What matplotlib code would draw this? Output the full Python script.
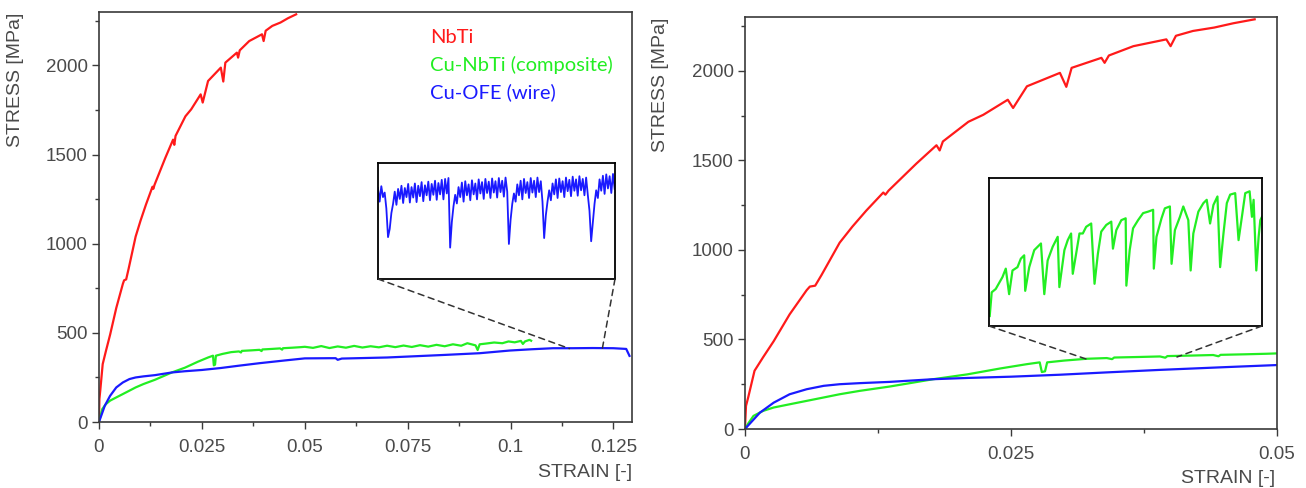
import matplotlib
matplotlib.use('Agg')
import matplotlib.pyplot as plt
from matplotlib.patches import ConnectionPatch
from matplotlib.ticker import MultipleLocator

# stress-strain data (strain [-], stress [MPa])
nbti_strain = [0, 0.0001, 0.0003, 0.0009, 0.0017, 0.0027, 0.0042, 0.0058, 0.0061, 0.0066,
               0.0072, 0.0089, 0.0101, 0.0114, 0.0130, 0.0132, 0.0135, 0.0161, 0.0180, 0.0183,
               0.0186, 0.0210, 0.0224, 0.0247, 0.0252, 0.0265, 0.0296, 0.0302, 0.0307, 0.0335,
               0.0338, 0.0342, 0.0365, 0.0396, 0.0400, 0.0405, 0.0421, 0.0441, 0.0459, 0.0479]
nbti_stress = [0, 129, 175, 325, 400, 490, 640, 775, 795, 800,
               860, 1040, 1130, 1219, 1320, 1308, 1331, 1481, 1584, 1555,
               1605, 1715, 1754, 1838, 1792, 1913, 1988, 1910, 2016, 2072,
               2044, 2085, 2137, 2175, 2137, 2195, 2222, 2241, 2265, 2287]

comp_strain = [0, 0.0003, 0.0008, 0.0017, 0.0027, 0.0042, 0.0058, 0.0074, 0.0089, 0.0108,
               0.0136, 0.0157, 0.0177, 0.0209, 0.0240, 0.0265, 0.0277, 0.0279, 0.0282, 0.0284,
               0.0300, 0.0321, 0.0340, 0.0345, 0.0347, 0.0370, 0.0390, 0.0395, 0.0397, 0.0420,
               0.0440, 0.0445, 0.0447, 0.0470, 0.0490, 0.0500, 0.0520, 0.0540, 0.0560, 0.0580,
               0.0600, 0.0620, 0.0640, 0.0660, 0.0680, 0.0700, 0.0720, 0.0740, 0.0760, 0.0780,
               0.0800, 0.0820, 0.0840, 0.0860, 0.0880, 0.0895, 0.0915, 0.0920, 0.0925, 0.0940,
               0.0960, 0.0980, 0.0995, 0.1010, 0.1025, 0.1030, 0.1035, 0.1046, 0.1050]
comp_stress = [0, 30, 73, 101, 120, 138, 157, 176, 194, 213,
               237, 258, 278, 305, 338, 362, 372, 318, 322, 372,
               382, 392, 396, 390, 399, 402, 405, 398, 407, 410,
               413, 406, 414, 417, 420, 422, 416, 426, 415, 424,
               417, 427, 418, 425, 419, 428, 420, 429, 421, 431,
               423, 433, 425, 436, 428, 442, 430, 404, 436, 440,
               446, 442, 452, 447, 455, 438, 452, 461, 456]

wire_strain = [0, 0.0014, 0.0027, 0.0042, 0.0058, 0.0074, 0.0089, 0.0108, 0.0136, 0.0177,
               0.0209, 0.0250, 0.0296, 0.0340, 0.0390, 0.0450, 0.0500, 0.0560, 0.0575, 0.0580,
               0.0590, 0.0700, 0.0836, 0.0925, 0.0998, 0.1050, 0.1103, 0.1150, 0.1200, 0.1250,
               0.1281, 0.1289]
wire_stress = [0, 91, 147, 194, 222, 241, 250, 256, 263, 278,
               285, 292, 303, 316, 330, 345, 357, 358, 358, 349,
               356, 362, 376, 386, 401, 408, 414, 414, 415, 414,
               410, 371]

# zoomed detail of the wire curve (left inset)
wire_zoom_strain = [
    0.11500, 0.11505, 0.11510, 0.11515, 0.11520, 0.11525, 0.11530, 0.11535, 0.11540, 0.11545,
    0.11550, 0.11555, 0.11560, 0.11565, 0.11570, 0.11575, 0.11580, 0.11585, 0.11590, 0.11595,
    0.11600, 0.11605, 0.11610, 0.11615, 0.11620, 0.11625, 0.11630, 0.11635, 0.11640, 0.11645,
    0.11650, 0.11655, 0.11660, 0.11665, 0.11670, 0.11675, 0.11680, 0.11685, 0.11690, 0.11695,
    0.11700, 0.11705, 0.11710, 0.11715, 0.11720, 0.11725, 0.11730, 0.11735, 0.11740, 0.11745,
    0.11750, 0.11755, 0.11760, 0.11765, 0.11770, 0.11775, 0.11780, 0.11785, 0.11790, 0.11795,
    0.11800, 0.11805, 0.11810, 0.11815, 0.11820, 0.11825, 0.11830, 0.11835, 0.11840, 0.11845,
    0.11850, 0.11855, 0.11860, 0.11865, 0.11870, 0.11875, 0.11880, 0.11885, 0.11890, 0.11895,
    0.11900, 0.11905, 0.11910, 0.11915, 0.11920, 0.11925, 0.11930, 0.11935, 0.11940, 0.11945,
    0.11950, 0.11955, 0.11960, 0.11965, 0.11970, 0.11975, 0.11980, 0.11985, 0.11990, 0.11995,
    0.12000, 0.12005, 0.12010, 0.12015, 0.12020, 0.12025, 0.12030, 0.12035, 0.12040, 0.12045,
    0.12050, 0.12055, 0.12060, 0.12065, 0.12070, 0.12075, 0.12080, 0.12085, 0.12090, 0.12095,
    0.12100, 0.12105, 0.12110, 0.12115, 0.12120, 0.12125, 0.12130, 0.12135, 0.12140, 0.12145,
    0.12150, 0.12155, 0.12160, 0.12165, 0.12170, 0.12175, 0.12180, 0.12185, 0.12190, 0.12195,
    0.12200, 0.12205]
wire_zoom_stress = [
    415.0, 412.0, 415.4, 413.0, 414.0, 410.5, 404.2, 406.0, 409.5, 411.5,
    414.2, 411.3, 414.8, 412.6, 415.5, 411.7, 415.0, 413.0, 415.9, 411.8,
    415.2, 412.9, 416.0, 411.9, 415.5, 413.2, 416.3, 412.1, 415.6, 413.4,
    416.4, 412.3, 415.9, 413.5, 416.6, 412.4, 416.1, 413.6, 416.8, 412.5,
    417.0, 413.8, 417.2, 401.9, 407.5, 411.0, 413.5, 411.6, 415.2, 413.0,
    416.2, 412.0, 416.5, 413.4, 415.8, 412.3, 416.7, 413.6, 416.0, 412.5,
    416.9, 413.8, 416.3, 412.6, 417.0, 413.9, 416.4, 412.8, 417.1, 414.0,
    416.5, 412.9, 417.2, 414.1, 416.6, 413.1, 417.3, 414.2, 402.7, 408.0,
    411.5, 413.8, 412.0, 415.8, 413.4, 416.6, 412.5, 417.0, 413.9, 416.3,
    412.8, 417.2, 414.0, 416.6, 413.0, 417.3, 414.1, 416.5, 412.0, 404.0,
    409.0, 412.0, 414.5, 412.3, 416.0, 413.6, 416.9, 412.8, 417.1, 414.1,
    416.5, 413.0, 417.3, 414.3, 416.8, 413.2, 417.5, 414.4, 416.9, 413.3,
    417.6, 414.5, 417.0, 413.4, 417.3, 413.5, 410.0, 403.3, 407.5, 411.5,
    414.5, 412.8, 416.9, 414.4, 417.7, 413.7, 418.0, 414.9, 417.6, 413.9,
    418.1, 414.8]

# zoomed detail of the composite curve (right inset)
comp_zoom_strain = [0.03202, 0.03208, 0.0322, 0.0324, 0.0325, 0.0326, 0.0327, 0.03285, 0.03295, 0.03305,
                    0.03308, 0.0332, 0.03335, 0.03355, 0.03365, 0.03375, 0.0339, 0.03405, 0.0341, 0.03425,
                    0.03435, 0.03445, 0.0345, 0.0346, 0.0347, 0.0348, 0.0349, 0.03505, 0.03515, 0.03525,
                    0.03535, 0.0355, 0.03565, 0.0357, 0.0358, 0.03595, 0.03608, 0.0361, 0.0362, 0.0363,
                    0.03645, 0.0366, 0.03675, 0.0369, 0.03692, 0.037, 0.03715, 0.03725, 0.0374, 0.03745,
                    0.03755, 0.0377, 0.0378, 0.03795, 0.03802, 0.0381, 0.03825, 0.0384, 0.0385, 0.0386,
                    0.0387, 0.03882, 0.0389, 0.039, 0.0391, 0.0392, 0.03935, 0.03945, 0.03955, 0.03965,
                    0.03978, 0.03985, 0.0399, 0.03998, 0.04005, 0.0401, 0.04015]
comp_zoom_stress = [387.7, 394.1, 395.0, 398.2, 400.5, 393.6, 400.0, 400.9, 403.2, 404.1,
                    394.5, 400.9, 405.5, 407.3, 393.6, 402.7, 406.4, 409.1, 395.5, 405.5,
                    408.2, 410.0, 399.1, 404.5, 410.0, 410.0, 411.8, 412.7, 396.4, 404.5,
                    410.5, 412.3, 413.2, 405.9, 410.9, 413.6, 414.1, 395.9, 405.5, 411.4,
                    413.6, 415.5, 415.9, 416.4, 400.5, 409.1, 414.1, 416.8, 417.3, 401.8,
                    410.9, 414.5, 417.3, 413.6, 400.0, 410.0, 415.9, 418.2, 419.1, 412.7,
                    417.7, 420.0, 400.9, 410.0, 418.2, 420.5, 420.9, 408.2, 414.5, 420.9,
                    421.4, 414.5, 419.1, 400.0, 409.1, 413.6, 414.5]

# tick labels as printed on the chart
left_xticks = [0, 0.025, 0.05, 0.075, 0.1, 0.125]
left_xlabels = ['0', '0.025', '0.05', '0.075', '0.1', '0.125']
right_xticks = [0, 0.025, 0.05]
right_xlabels = ['0', '0.025', '0.05']
yticks = [0, 500, 1000, 1500, 2000]
ylabels = ['0', '500', '1000', '1500', '2000']

legend_names = ['NbTi', 'Cu-NbTi (composite)', 'Cu-OFE (wire)']

RED = '#ff1a1a'
GREEN = '#22ee22'
BLUE = '#1a1aff'
FRAME = '#3a3a3a'
TXT = '#4a4a4a'

plt.rcParams['font.family'] = ['Liberation Sans', 'DejaVu Sans']

fig = plt.figure(figsize=(13.06, 4.88), dpi=100)
ax1 = fig.add_axes([0.0758, 0.1352, 0.4081, 0.8402])
ax2 = fig.add_axes([0.5704, 0.1209, 0.4074, 0.8443])


def style_axes(ax, xticks, xlabels, xmax):
    ax.plot(nbti_strain, nbti_stress, color=RED, lw=1.6)
    ax.plot(comp_strain, comp_stress, color=GREEN, lw=1.6)
    ax.plot(wire_strain, wire_stress, color=BLUE, lw=1.6)
    ax.set_xlim(0, xmax)
    ax.set_ylim(0, 2300)
    ax.set_xticks(xticks)
    ax.set_xticklabels(xlabels)
    ax.set_yticks(yticks)
    ax.set_yticklabels(ylabels)
    ax.xaxis.set_minor_locator(MultipleLocator(0.0125))
    ax.yaxis.set_minor_locator(MultipleLocator(250))
    ax.tick_params(which='major', direction='out', length=5, width=1, color=FRAME,
                   labelsize=13.5, labelcolor=TXT)
    ax.tick_params(which='minor', direction='out', length=3, width=1, color=FRAME)
    ax.tick_params(axis='x', pad=7)
    ax.tick_params(axis='y', pad=3)
    for s in ax.spines.values():
        s.set_color(FRAME)
        s.set_linewidth(1.2)


style_axes(ax1, left_xticks, left_xlabels, 0.1295)
style_axes(ax2, right_xticks, right_xlabels, 0.05)

ax1.text(-0.156, 0.834, 'STRESS [MPa]', rotation=90, ha='center', va='center',
         transform=ax1.transAxes, fontsize=14, color=TXT)
ax2.text(-0.158, 0.835, 'STRESS [MPa]', rotation=90, ha='center', va='center',
         transform=ax2.transAxes, fontsize=14, color=TXT)
ax1.text(1.0, -0.122, 'STRAIN [-]', ha='right', va='center',
         transform=ax1.transAxes, fontsize=14, color=TXT)
ax2.text(0.996, -0.119, 'STRAIN [-]', ha='right', va='center',
         transform=ax2.transAxes, fontsize=14, color=TXT)

# legend as coloured text
for name, col, yy in zip(legend_names, [RED, GREEN, BLUE], [0.937, 0.871, 0.805]):
    ax1.text(0.621, yy, name, color=col, fontsize=14.5, family=['Lato', 'DejaVu Sans'],
             ha='left', va='center', transform=ax1.transAxes)

# insets
in1 = fig.add_axes([0.2894, 0.4283, 0.1815, 0.2377])
in1.plot(wire_zoom_strain, wire_zoom_stress, color=BLUE, lw=1.3)
in1.set_xlim(0.11500, 0.12206)
in1.set_ylim(395, 420.5)

in2 = fig.add_axes([0.7573, 0.3320, 0.2090, 0.3033])
in2.plot(comp_zoom_strain, comp_zoom_stress, color=GREEN, lw=1.6)
in2.set_xlim(0.032, 0.04015)
in2.set_ylim(385, 425)

for ins in [in1, in2]:
    ins.set_xticks([])
    ins.set_yticks([])
    for s in ins.spines.values():
        s.set_color('black')
        s.set_linewidth(1.3)

# dashed zoom lines from the inset corners to the curve
for ins, ax, pts in [(in1, ax1, [(0.1143, 412), (0.1223, 412)]),
                     (in2, ax2, [(0.0321, 390), (0.0406, 402)])]:
    for corner, p in zip([(0, 0), (1, 0)], pts):
        con = ConnectionPatch(xyA=corner, coordsA=ins.transAxes, xyB=p, coordsB=ax.transData,
                              color='#333333', lw=1.1, linestyle=(0, (4, 3)))
        fig.add_artist(con)

fig.savefig('out.png', dpi=100)
